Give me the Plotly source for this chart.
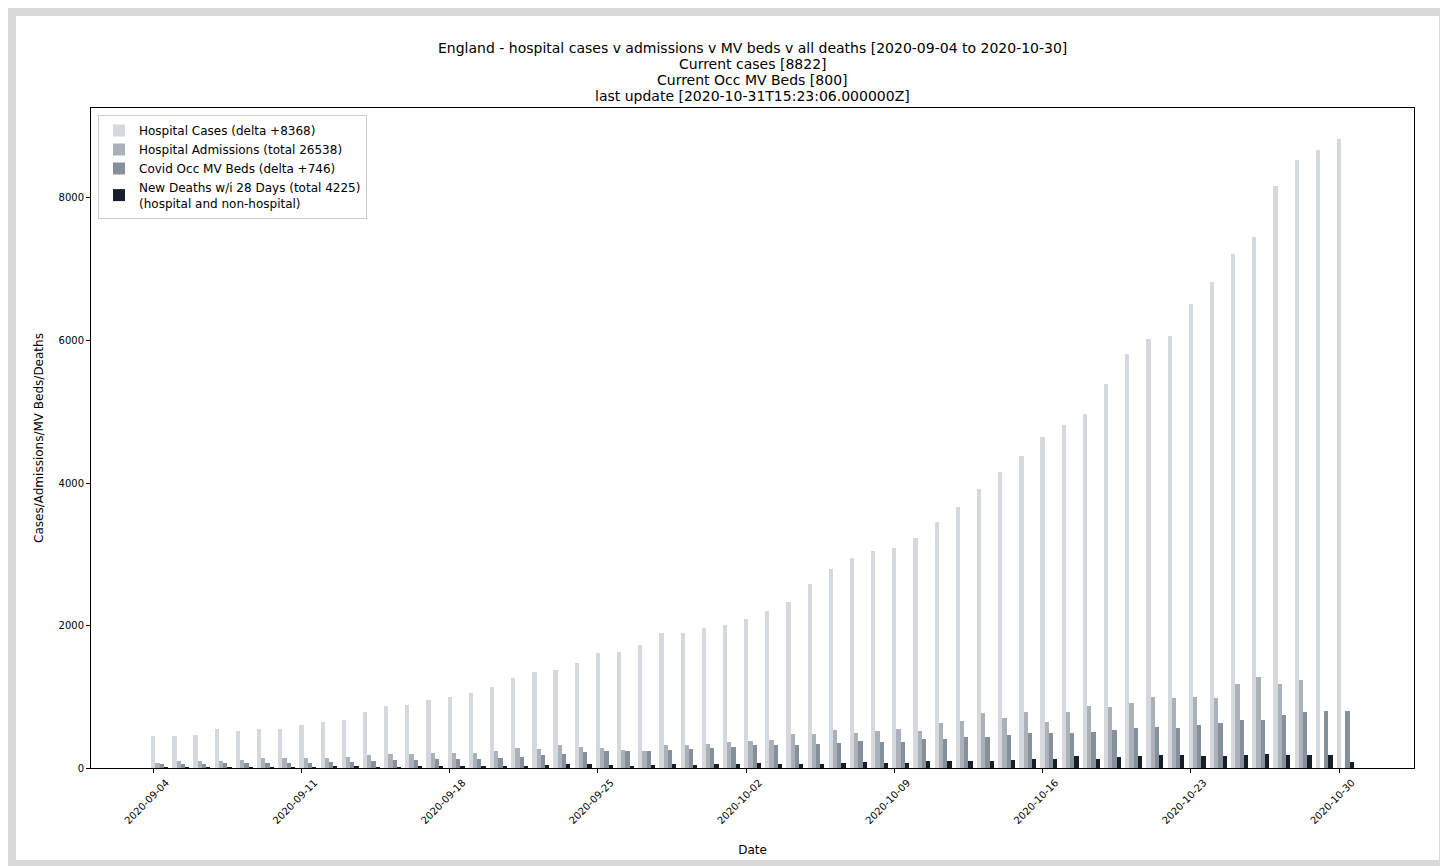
import pandas as pd
import plotly.graph_objects as go

# ---------------- data ----------------
dates = pd.date_range("2020-09-04", "2020-10-30", freq="D")

hospital_cases = [454, 454, 463, 543, 520, 543, 552, 604, 646, 670,
                  790, 870, 889, 954, 992, 1053, 1137, 1263, 1343, 1375,
                  1474, 1614, 1628, 1726, 1890, 1890, 1965, 2003, 2091, 2203,
                  2326, 2587, 2789, 2947, 3046, 3088, 3223, 3448, 3663, 3916,
                  4159, 4374, 4646, 4809, 4970, 5385, 5811, 6018, 6059, 6509,
                  6816, 7213, 7450, 8165, 8527, 8674, 8822]

hospital_admissions = [70, 94, 94, 98, 108, 140, 140, 140, 140, 150,
                       178, 192, 192, 206, 206, 206, 241, 278, 267, 316,
                       295, 281, 255, 243, 318, 318, 332, 367, 382, 391,
                       477, 477, 529, 491, 517, 543, 517, 627, 664, 770,
                       702, 791, 641, 791, 873, 862, 918, 995, 982, 995,
                       982, 1185, 1272, 1183, 1236, None, None]

mv_beds = [54, 56, 56, 72, 70, 70, 70, 70, 84, 84,
           94, 108, 108, 120, 120, 131, 142, 156, 183, 192,
           220, 234, 232, 243, 257, 269, 281, 297, 318, 316,
           316, 330, 356, 379, 365, 365, 402, 402, 431, 440,
           463, 491, 491, 491, 505, 529, 566, 575, 566, 604,
           627, 669, 678, 739, 791, 800, 800]

deaths = [8, 14, 14, 14, 14, 14, 14, 14, 20, 20,
          14, 14, 28, 30, 28, 22, 30, 30, 42, 56,
          50, 38, 35, 42, 56, 42, 56, 56, 68, 53,
          53, 53, 65, 80, 77, 65, 94, 105, 105, 94,
          108, 131, 131, 168, 122, 154, 168, 178, 178, 164,
          164, 187, 201, 187, 187, 187, 80]

series_names = [
    "Hospital Cases (delta +8368)",
    "Hospital Admissions (total 26538)",
    "Covid Occ MV Beds (delta +746)",
    "New Deaths w/i 28 Days (total 4225)<br>(hospital and non-hospital)",
]
series_values = [hospital_cases, hospital_admissions, mv_beds, deaths]
series_colors = ["#d5d9dd", "#abb1b8", "#85909b", "#17202a"]

title_lines = [
    "England - hospital cases v admissions v MV beds v all deaths [2020-09-04 to 2020-10-30]",
    "Current cases [8822]",
    "Current Occ MV Beds [800]",
    "last update [2020-10-31T15:23:06.000000Z]",
]

tick_dates = dates[::7]

# ---------------- figure ----------------
DAY_MS = 86400000
BAR_W = 0.2 * DAY_MS
offsets = [-0.1, 0.1, 0.3, 0.5]

fig = go.Figure()
for name, vals, col, off in zip(series_names, series_values, series_colors, offsets):
    fig.add_trace(go.Bar(
        x=dates, y=vals, name=name,
        marker=dict(color=col, line=dict(width=0)),
        width=BAR_W, offset=off * DAY_MS,
    ))

PAGE = 8  # page body margin
W, H = 1440, 858
L, R, T, B = 83, 34, 100, 98
pw, ph = W - L - R, H - T - B


def px_x(x):  # screen x -> paper x
    return (x - PAGE - L) / pw


def px_y(y):  # screen y -> paper y
    return (PAGE + H - B - y) / ph


start = dates[0]
x_range = [start - pd.Timedelta(days=2.94), start + pd.Timedelta(days=59.54)]

font_family = "DejaVu Sans, Arial, sans-serif"

fig.update_layout(
    width=W, height=H,
    margin=dict(l=L, r=R, t=T, b=B, autoexpand=False),
    paper_bgcolor="#d9d9d9",
    plot_bgcolor="white",
    barmode="overlay",
    bargap=0,
    font=dict(family=font_family, size=12, color="black"),
    showlegend=True,
    legend=dict(
        x=px_x(98), y=px_y(115), xanchor="left", yanchor="top",
        bgcolor="white", bordercolor="#cccccc", borderwidth=1,
        font=dict(size=12), tracegroupgap=0, itemwidth=30,
    ),
    shapes=[dict(
        type="rect", xref="paper", yref="paper", layer="below",
        x0=px_x(16), x1=px_x(1439), y0=px_y(860), y1=px_y(16),
        fillcolor="white", line=dict(width=0),
    )],
)

ann = []
for txt, yc in zip(title_lines, [47.5, 63.8, 80.0, 96.2]):
    ann.append(dict(
        text=txt, xref="paper", yref="paper", x=0.5, y=px_y(yc),
        xanchor="center", yanchor="middle", showarrow=False,
        font=dict(size=14, family=font_family, color="black"),
    ))
fig.update_layout(annotations=ann)

fig.update_xaxes(
    type="date", range=x_range,
    showline=True, mirror=True, linecolor="black", linewidth=1,
    showgrid=False, zeroline=False,
    ticks="outside", ticklen=4, tickcolor="black",
    tickvals=list(tick_dates), ticktext=[d.strftime("%Y-%m-%d") for d in tick_dates],
    tickangle=-45, tickfont=dict(size=10),
    ticklabelshift=13,
    title=dict(text="Date", font=dict(size=12), standoff=20),
)
fig.update_yaxes(
    range=[0, 9263],
    showline=True, mirror=True, linecolor="black", linewidth=1,
    showgrid=False, zeroline=False,
    ticks="outside", ticklen=4, tickcolor="black",
    tickvals=[0, 2000, 4000, 6000, 8000], tickfont=dict(size=10),
    title=dict(text="Cases/Admissions/MV Beds/Deaths", font=dict(size=12), standoff=12),
)

fig.write_html("out.html")
